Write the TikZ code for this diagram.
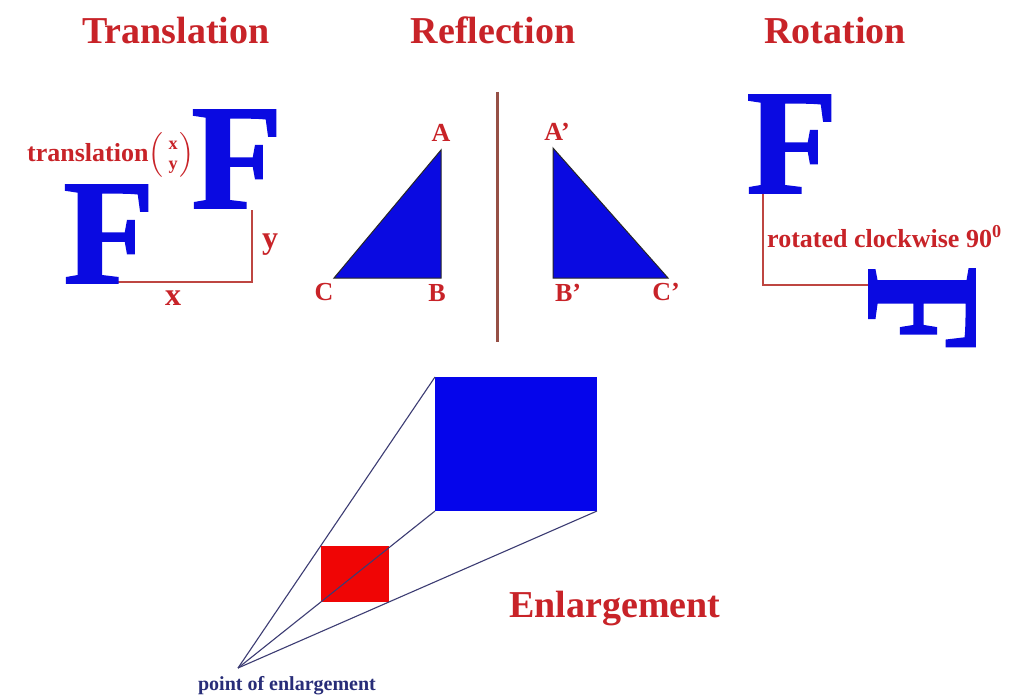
\documentclass[tikz,border=0pt]{standalone}
\usepackage{amsmath}
\usepackage{fontspec}
\setmainfont{Liberation Serif}
\newfontfamily\heavyF{Liberation Serif}[FakeBold=1]
\usetikzlibrary{positioning,calc}
\definecolor{fBlue}{RGB}{10,10,225}
\definecolor{tRed}{RGB}{200,35,40}
\definecolor{lineRed}{RGB}{190,70,65}
\definecolor{mirrorBrown}{RGB}{150,80,70}
\definecolor{rayNavy}{RGB}{60,60,115}
\definecolor{ptNavy}{RGB}{40,45,120}
\definecolor{sqRed}{RGB}{240,5,5}
\definecolor{sqBlue}{RGB}{5,5,235}
\tikzset{
  heading/.style={text=tRed, font=\fontsize{38}{40}\selectfont\bfseries, inner sep=0pt, anchor=base},
  bigF/.style={text=fBlue, font=\fontsize{150}{152}\selectfont\heavyF\bfseries, inner sep=0pt, anchor=base},
  ptlbl/.style={text=tRed, font=\fontsize{26}{28}\selectfont\bfseries, inner sep=0pt, anchor=base},
  axlbl/.style={text=tRed, font=\fontsize{32}{34}\selectfont\bfseries, inner sep=0pt, anchor=base},
  notelbl/.style={text=tRed, font=\fontsize{26}{28}\selectfont\bfseries, inner sep=0pt, anchor=base west},
  shiftln/.style={lineRed, line width=2.4pt},
  mirrorln/.style={mirrorBrown, line width=3pt},
  tri/.style={fill=fBlue, draw=black!85, line width=1pt},
  rayln/.style={rayNavy, line width=1.1pt},
}

\begin{document}
\begin{tikzpicture}[x=1pt,y=-1pt]
  \useasboundingbox (0,0) rectangle (1011,698);
  \fill[white] (0,0) rectangle (1011,698);
  % headings
  \node[heading] (hTrans) at (176,44) {Translation};
  \node[heading] (hRefl) at (493,44) {Reflection};
  \node[heading] (hRot) at (835,44) {Rotation};
  \node[heading] (hEnl) at (615,617) {Enlargement};

  % translation: F moved by (x,y)
  \coordinate (tStart) at (113,282);
  \coordinate (tCorner) at (252,282);
  \coordinate (tEnd) at (252,210);
  \draw[shiftln] (tStart) -- (tCorner) -- (tEnd);
  \node[bigF] (Fold) at (109,283) {F};
  \node[bigF] (Fnew) at (237,208) {F};
  \node[axlbl] (lx) at (173,305) {x};
  \node[axlbl] (ly) at (270,248) {y};
  \node[notelbl] (lTrans) at (27,161)
    {translation$\Bigl(\,\genfrac{}{}{0pt}{1}{\text{x}}{\text{y}}\Bigr)$};

  % reflection in a vertical mirror line
  \coordinate (A) at (441,150);
  \coordinate (B) at (441,278);
  \coordinate (C) at (334,278);
  \coordinate (Ar) at (553,148);
  \coordinate (Br) at (553,278);
  \coordinate (Cr) at (668,278);
  \draw[tri] (A) -- (B) -- (C) -- cycle;
  \draw[tri] (Ar) -- (Br) -- (Cr) -- cycle;
  \coordinate (mTop) at (497,92);
  \coordinate (mBot) at (497,342);
  \draw[mirrorln] (mTop) -- (mBot);
  \node[ptlbl] (lA) at (441,141) {A};
  \node[ptlbl] (lB) at (437,301) {B};
  \node[ptlbl] (lC) at (324,300) {C};
  \node[ptlbl] (lAr) at (557,140) {A'};
  \node[ptlbl] (lBr) at (568,301) {B'};
  \node[ptlbl] (lCr) at (666,300) {C'};

  % rotation about the corner
  \coordinate (rStart) at (763,193);
  \coordinate (rCorner) at (763,285);
  \coordinate (rEnd) at (870,285);
  \draw[shiftln] (rStart) -- (rCorner) -- (rEnd);
  \node[bigF] (Frot0) at (792,193) {F};
  \node[bigF, anchor=center, rotate=-90, xscale=0.95, yscale=1.08] (Frot) at (922,310) {F};
  \node[notelbl] (lRot) at (767,247) {rotated clockwise 90\textsuperscript{0}};

  % enlargement from a point
  \coordinate (O) at (238,668);
  \coordinate (bTL) at (435,377);
  \coordinate (bBR) at (597,511);
  \coordinate (bBL) at (435,511);
  \coordinate (rTL) at ($(O)!0.42!(bTL)$);
  \coordinate (rBR) at ($(O)!0.42!(bBR)$);
  \fill[sqBlue] (bTL) rectangle (bBR);
  \fill[sqRed] (rTL) rectangle (rBR);
  \draw[rayln] (O) -- (bTL);
  \draw[rayln] (O) -- (bBL);
  \draw[rayln] (O) -- (bBR);
  \node[text=ptNavy, font=\fontsize{20}{22}\selectfont\bfseries, inner sep=0pt, anchor=base]
    (lO) at (287,690) {point of enlargement};
\end{tikzpicture}
\end{document}
